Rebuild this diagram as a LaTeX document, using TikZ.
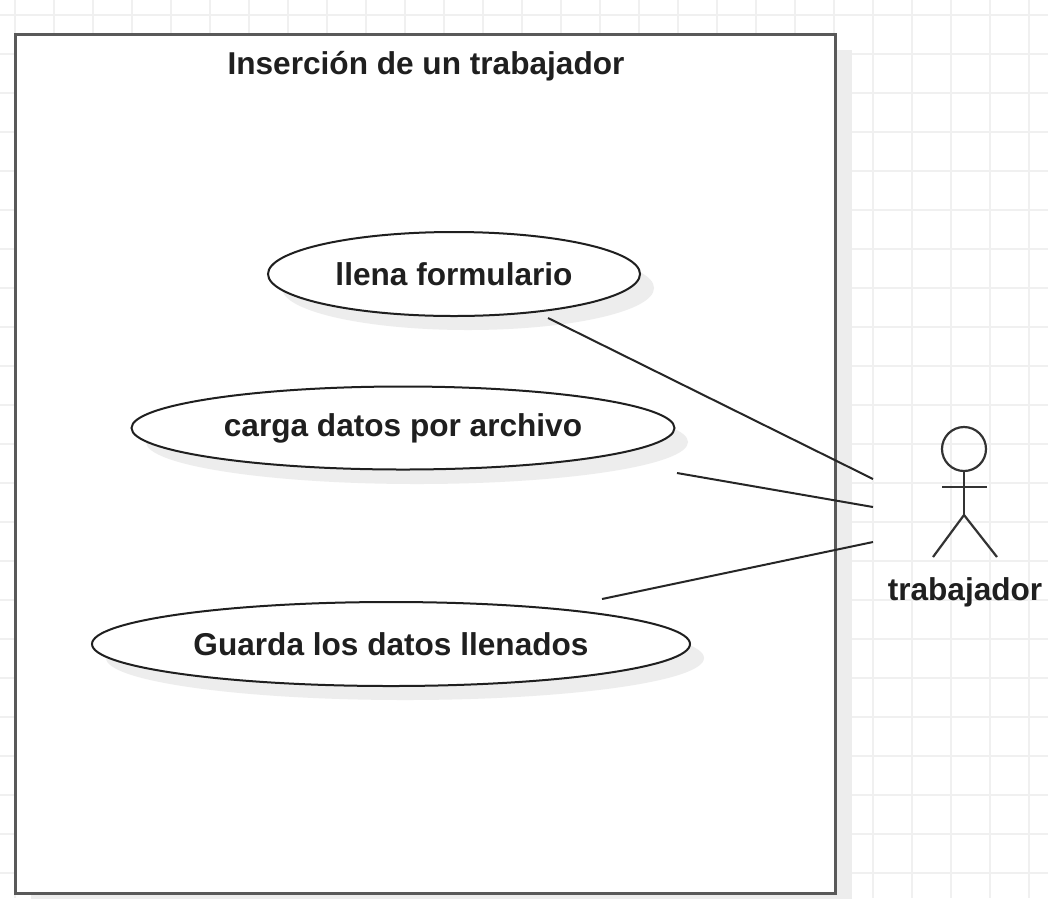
\documentclass[tikz,border=0pt]{standalone}
\usepackage{fontspec}
\setmainfont{Liberation Sans}
\usetikzlibrary{shapes.geometric}
\begin{document}
\begin{tikzpicture}[x=1pt,y=-1pt,
  lbl/.style={font=\bfseries\fontsize{31.6}{37}\selectfont, text=black!88},
  usecase/.style={ellipse, draw=black!88, line width=2pt, fill=white, inner sep=0pt, lbl},
  shadowfill/.style={fill=black!7},
  gridline/.style={draw=black!6, line width=2pt},
  conn/.style={draw=black!85, line width=2pt},
  stick/.style={draw=black!80, line width=2.2pt},
  systembox/.style={rectangle, draw=black!65, line width=3pt, fill=white, inner sep=0pt}]
\useasboundingbox (0,0) rectangle (1048,898);
\fill[white] (0,0) rectangle (1048,898);
% grid
\foreach \i in {0,...,26} \draw[gridline] ({15+39*\i},0) -- ({15+39*\i},898);
\foreach \j in {0,...,22} \draw[gridline] (0,{15+39*\j}) -- (1048,{15+39*\j});
% system boundary
\fill[shadowfill] (31,50) rectangle (852,910);
\node[systembox, minimum width=820pt, minimum height=859pt] (system) at (425,463.5) {};
\node[lbl] (title) at (426,66) {Inserción de un trabajador};
% use case shadows
\fill[shadowfill] (468,288) ellipse [x radius=186pt, y radius=42pt];
\fill[shadowfill] (417,442) ellipse [x radius=271pt, y radius=42pt];
\fill[shadowfill] (405,658) ellipse [x radius=299pt, y radius=42pt];
% use cases
\node[usecase, minimum width=372pt, minimum height=84pt] (e1) at (454,274) {llena formulario};
\node[usecase, minimum width=543pt, minimum height=83pt] (e2) at (403,428) {carga datos por archivo};
\node[usecase, minimum width=598pt, minimum height=84pt] (e3) at (391,644) {Guarda los datos llenados};
% actor
\node[inner sep=0pt, minimum width=64pt, minimum height=131pt] (actor) at (965,492) {};
\draw[stick] (964,449) circle [radius=22pt];
\draw[stick] (942,487) -- (987,487);
\draw[stick] (964,471) -- (964,515);
\draw[stick] (933,557) -- (964,515) -- (997,557);
\node[lbl] (actorlabel) at (965,592) {trabajador};
% connector ends
\coordinate (s1) at (548,318);
\coordinate (s2) at (677,473);
\coordinate (s3) at (602,599);
\coordinate (a1) at (873,479);
\coordinate (a2) at (873,507);
\coordinate (a3) at (873,542);
\draw[conn] (s1) -- (a1);
\draw[conn] (s2) -- (a2);
\draw[conn] (s3) -- (a3);
\end{tikzpicture}
\end{document}
